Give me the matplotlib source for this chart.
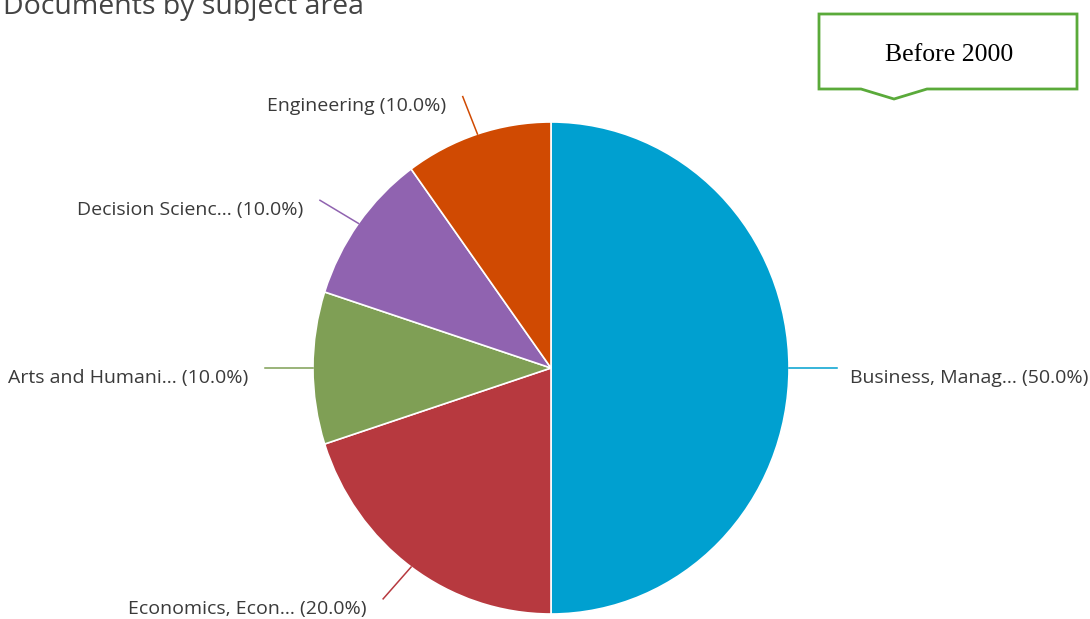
import matplotlib.pyplot as plt
from matplotlib.patches import Polygon
import numpy as np

subjects = ["Business, Manag...", "Economics, Econ...", "Arts and Humani...",
            "Decision Scienc...", "Engineering"]
documents = [5, 2, 1, 1, 1]
colors = ["#00a0d0", "#b7393f", "#7f9f55", "#9063b0", "#d04a02"]

W, H = 1090, 619
fig = plt.figure(figsize=(W / 100, H / 100), dpi=100)

# overlay in pixel coordinates for title and callout
over = fig.add_axes([0, 0, 1, 1])
over.set_xlim(0, W)
over.set_ylim(H, 0)
over.axis("off")

# pie sits in its own axes; slightly taller than wide
cx, cy, rx, ry = 551, 368, 238, 246
ax = fig.add_axes([(cx - rx) / W, (H - cy - ry) / H, 2 * rx / W, 2 * ry / H])
wedges, _ = ax.pie(documents, colors=colors, startangle=90, counterclock=False,
                   radius=1, wedgeprops=dict(edgecolor="white", linewidth=1.2))
ax.set_aspect("auto")
ax.set_xlim(-1, 1)
ax.set_ylim(-1, 1)
ax.axis("off")

total = sum(documents)
for w, name, n, c in zip(wedges, subjects, documents, colors):
    ang = np.deg2rad((w.theta1 + w.theta2) / 2)
    x0, y0 = np.cos(ang), np.sin(ang)
    x1, y1 = 1.2 * x0, 1.16 * y0
    ax.plot([x0, x1], [y0, y1], color=c, lw=1.1, clip_on=False)
    right = x0 > 0.01
    ax.annotate(f"{name} ({100 * n / total:.1f}%)", xy=(x1, y1),
                xytext=(10 if right else -12, -7), textcoords="offset points",
                ha="left" if right else "right", va="center",
                fontsize=14, color="#3a3a3a", family="Open Sans",
                annotation_clip=False)

over.text(3, 14, "Documents by subject area", fontsize=20.5, color="#444444",
          family="Open Sans", ha="left", va="baseline")

box = Polygon([(819, 14), (1077, 14), (1077, 89), (927, 89), (894, 99),
               (861, 89), (819, 89)], closed=True, facecolor="white",
              edgecolor="#5aaa3a", linewidth=2)
over.add_patch(box)
over.text(949, 55, "Before 2000", fontsize=18.5, family="Liberation Serif",
          color="black", ha="center", va="center")

fig.savefig("out.png", dpi=100)
